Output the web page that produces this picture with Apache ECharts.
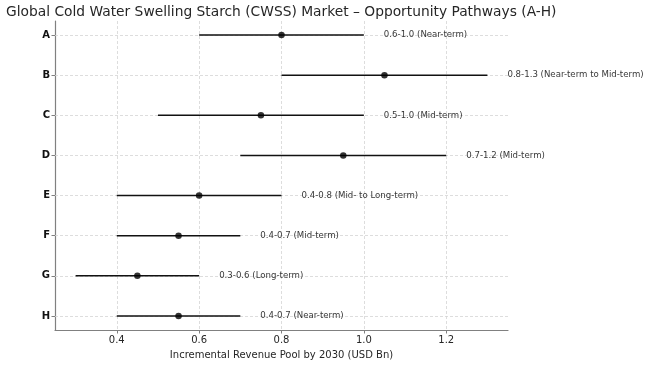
<!DOCTYPE html>
<html>
<head>
<meta charset="utf-8">
<script src="https://cdn.jsdelivr.net/npm/echarts@6/dist/echarts.min.js"></script>
<style>html,body{margin:0;padding:0;background:#fff;}#chart{width:650px;height:365px;}</style>
</head>
<body>
<div id="chart"></div>
<script>
const categories = ['A', 'B', 'C', 'D', 'E', 'F', 'G', 'H'];
const lowValues = [0.6, 0.8, 0.5, 0.7, 0.4, 0.4, 0.3, 0.4];
const highValues = [1.0, 1.3, 1.0, 1.2, 0.8, 0.7, 0.6, 0.7];
const midValues = [0.8, 1.05, 0.75, 0.95, 0.6, 0.55, 0.45, 0.55];
const rangeLabels = [
  '0.6-1.0 (Near-term)',
  '0.8-1.3 (Near-term to Mid-term)',
  '0.5-1.0 (Mid-term)',
  '0.7-1.2 (Mid-term)',
  '0.4-0.8 (Mid- to Long-term)',
  '0.4-0.7 (Mid-term)',
  '0.3-0.6 (Long-term)',
  '0.4-0.7 (Near-term)'
];
const xTicks = [0.4, 0.6, 0.8, 1.0, 1.2];
const titleText = 'Global Cold Water Swelling Starch (CWSS) Market \u2013 Opportunity Pathways (A-H)';
const xAxisTitle = 'Incremental Revenue Pool by 2030 (USD Bn)';

const FONT = 'DejaVu Sans';
const catIdx = categories.map((c, i) => i);
const rangeData = categories.map((c, i) => [lowValues[i], i, highValues[i]]);
const pointData = categories.map((c, i) => [midValues[i], i]);
const gridStyle = {color: '#d4d4d4', type: [3, 2], width: 0.8};

const chart = echarts.init(document.getElementById('chart'), null, {renderer: 'canvas'});
chart.setOption({
  animation: false,
  backgroundColor: '#fff',
  title: {
    text: titleText,
    left: 1, top: 0,
    textStyle: {fontFamily: FONT, fontSize: 13.8, fontWeight: 'normal', color: '#262626'}
  },
  grid: {left: 55, right: 142, top: 21, bottom: 33},
  xAxis: {
    type: 'value', min: 0.25, max: 1.35, interval: 0.2, position: 'bottom',
    name: xAxisTitle, nameLocation: 'middle', nameGap: 20,
    nameTextStyle: {fontFamily: FONT, fontSize: 10, color: '#262626'},
    axisLine: {show: true, onZero: false, lineStyle: {color: '#808080', width: 1.2}},
    axisTick: {show: true, length: 3.5, inside: false, customValues: xTicks, lineStyle: {color: '#808080'}},
    axisLabel: {customValues: xTicks, margin: 5, fontFamily: FONT, fontSize: 10, color: '#262626',
      formatter: v => v.toFixed(1)},
    splitLine: {show: false}
  },
  yAxis: {
    type: 'value', min: -0.35, max: 7.35, interval: 1, inverse: true,
    axisLine: {show: true, onZero: false, lineStyle: {color: '#808080', width: 1.2}},
    axisTick: {show: true, length: 3.5, customValues: catIdx, lineStyle: {color: '#808080'}},
    axisLabel: {customValues: catIdx, margin: 5, fontFamily: FONT, fontSize: 10, fontWeight: 'bold', color: '#111',
      formatter: v => categories[Math.round(v)] || ''},
    splitLine: {show: false}
  },
  series: [
    {
      type: 'custom',
      data: rangeData,
      encode: {x: [0, 2], y: 1},
      clip: false,
      z: 2,
      renderItem: function (params, api) {
        const s = api.coord([api.value(0), api.value(1)]);
        const e = api.coord([api.value(2), api.value(1)]);
        return {
          type: 'group',
          children: [
            {type: 'line', shape: {x1: s[0], y1: s[1], x2: e[0], y2: e[1]},
              style: {stroke: '#111', lineWidth: 1.5}},
            {type: 'text', x: e[0] + 20, y: e[1],
              style: {text: rangeLabels[params.dataIndex], fill: '#383838', fontFamily: FONT, fontSize: 8.6,
                textAlign: 'left', textVerticalAlign: 'middle'}}
          ]
        };
      }
    },
    {
      type: 'scatter',
      data: pointData,
      symbol: 'circle',
      symbolSize: 6.5,
      itemStyle: {color: '#000'},
      z: 3,
      markLine: {
        silent: true, symbol: 'none', z: 1,
        label: {show: false},
        lineStyle: gridStyle,
        data: xTicks.map(v => ({xAxis: v})).concat(catIdx.map(v => ({yAxis: v})))
      }
    }
  ]
});
</script>
</body>
</html>
